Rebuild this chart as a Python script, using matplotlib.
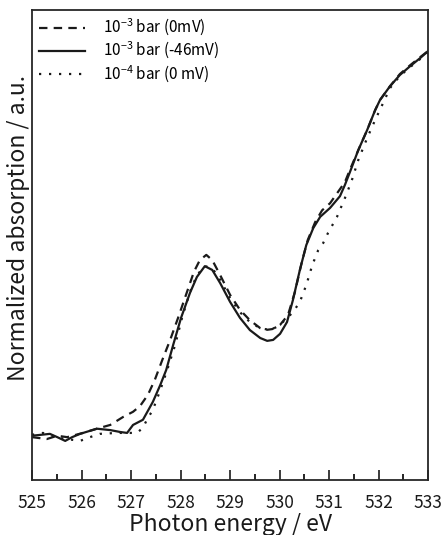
#!/usr/bin/env python3

import matplotlib
matplotlib.use('Agg')
import matplotlib.pyplot as plt
from matplotlib.ticker import MultipleLocator

plt.rcParams['font.family'] = ['Noto Sans CJK JP', 'DejaVu Sans']
plt.rcParams['mathtext.fontset'] = 'custom'
plt.rcParams['mathtext.rm'] = 'Noto Sans CJK JP'

# 10^-3 bar (-46mV), solid
e_solid = [525.00, 525.36, 525.51, 525.67, 525.81, 525.97, 526.31, 526.58, 526.78, 526.92,
           527.04, 527.24, 527.44, 527.59, 527.71, 527.85, 528.01, 528.19, 528.33, 528.49,
           528.64, 528.80, 529.00, 529.20, 529.40, 529.61, 529.75, 529.87, 530.01, 530.15,
           530.27, 530.41, 530.54, 530.68, 530.82, 531.02, 531.22, 531.32, 531.42, 531.59,
           531.77, 531.93, 532.03, 532.23, 532.43, 532.64, 532.84, 533.00]
a_solid = [0.094, 0.098, 0.091, 0.083, 0.091, 0.098, 0.109, 0.106, 0.102, 0.100,
           0.117, 0.128, 0.166, 0.202, 0.234, 0.287, 0.345, 0.398, 0.432, 0.455,
           0.447, 0.419, 0.379, 0.345, 0.319, 0.302, 0.296, 0.298, 0.311, 0.336,
           0.383, 0.447, 0.500, 0.536, 0.560, 0.579, 0.604, 0.628, 0.655, 0.702,
           0.745, 0.787, 0.809, 0.838, 0.862, 0.881, 0.898, 0.913]

# 10^-3 bar (0mV), dashed
e_dash = [525.00, 525.30, 525.51, 525.71, 526.03, 526.31, 526.58, 526.84, 527.04, 527.18,
          527.34, 527.48, 527.63, 527.79, 527.95, 528.11, 528.27, 528.39, 528.52, 528.64,
          528.80, 529.00, 529.20, 529.40, 529.61, 529.71, 529.85, 530.01, 530.17, 530.31,
          530.45, 530.57, 530.72, 530.86, 531.02, 531.18, 531.32, 531.42, 531.59, 531.77,
          531.93, 532.03, 532.23, 532.43, 532.64, 532.84, 533.00]
a_dash = [0.091, 0.087, 0.094, 0.091, 0.100, 0.109, 0.117, 0.134, 0.145, 0.157,
          0.181, 0.213, 0.255, 0.298, 0.345, 0.394, 0.443, 0.468, 0.479, 0.468,
          0.436, 0.394, 0.362, 0.340, 0.323, 0.319, 0.321, 0.330, 0.351, 0.400,
          0.464, 0.511, 0.549, 0.574, 0.589, 0.613, 0.634, 0.660, 0.702, 0.745,
          0.787, 0.809, 0.838, 0.864, 0.883, 0.900, 0.913]

# 10^-4 bar (0 mV), dotted
e_dot = [525.00, 525.22, 525.57, 525.97, 526.17, 526.37, 526.72, 527.12, 527.24, 527.32,
         527.44, 527.59, 527.73, 527.89, 528.03, 528.19, 528.33, 528.49, 528.64, 528.80,
         529.00, 529.20, 529.40, 529.61, 529.81, 529.95, 530.11, 530.27, 530.41, 530.54,
         530.66, 530.78, 530.88, 530.98, 531.16, 531.32, 531.46, 531.59, 531.77, 531.93,
         532.09, 532.23, 532.43, 532.64, 532.84, 533.00]
a_dot = [0.096, 0.100, 0.089, 0.083, 0.091, 0.098, 0.100, 0.100, 0.111, 0.128,
         0.149, 0.191, 0.234, 0.287, 0.345, 0.400, 0.436, 0.455, 0.451, 0.426,
         0.387, 0.357, 0.336, 0.323, 0.319, 0.326, 0.340, 0.357, 0.379, 0.415,
         0.457, 0.489, 0.504, 0.526, 0.560, 0.600, 0.638, 0.681, 0.728, 0.766,
         0.802, 0.834, 0.860, 0.879, 0.896, 0.911]

labels = [r'10$^{-3}$ bar (0mV)', r'10$^{-3}$ bar (-46mV)', r'10$^{-4}$ bar (0 mV)']

fig = plt.figure(figsize=(4.45, 5.35), dpi=100)
ax = fig.add_axes([0.072, 0.103, 0.890, 0.878])

ax.plot(e_dash, a_dash, color='0.1', lw=1.6, ls=(0, (3.8, 2.8)), label=labels[0])
ax.plot(e_solid, a_solid, color='0.1', lw=1.6, ls='-', label=labels[1])
ax.plot(e_dot, a_dot, color='0.1', lw=1.6, ls=(0, (1, 3.5)), label=labels[2])

ax.set_xlim(525, 533)
ax.set_ylim(0, 1)
ax.set_yticks([])
ax.xaxis.set_major_locator(MultipleLocator(1))
ax.xaxis.set_minor_locator(MultipleLocator(0.5))
ax.tick_params(axis='x', which='major', direction='in', length=7, width=1.2,
               pad=10, labelsize=12.5, colors='0.1')
ax.tick_params(axis='x', which='minor', direction='in', length=4, width=1.2)
for s in ax.spines.values():
    s.set_linewidth(1.3)
    s.set_color('0.15')

ax.set_xlabel('Photon energy / eV', fontsize=16.5, color='0.1', va='baseline')
ax.xaxis.set_label_coords(0.5, -0.108)
ax.set_ylabel('Normalized absorption / a.u.', fontsize=16.5, color='0.1', va='center')
ax.yaxis.set_label_coords(-0.034, 0.536)

ax.legend(loc='upper left', frameon=False, fontsize=11, handlelength=3.0,
          handletextpad=1.2, borderaxespad=0.2, borderpad=0.25, labelspacing=0.15)

plt.savefig('out.png', dpi=100)
plt.close()
